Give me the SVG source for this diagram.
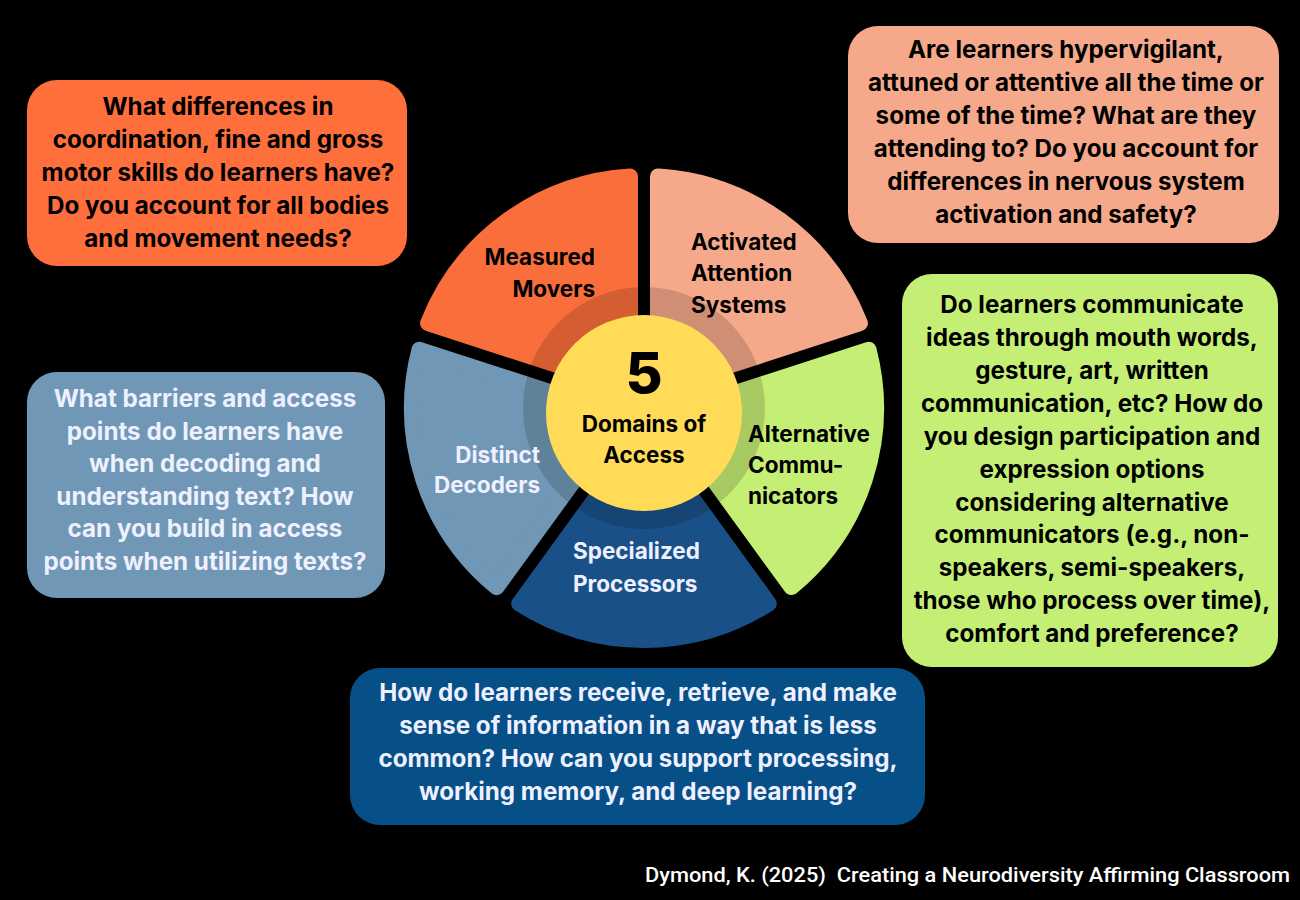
<svg xmlns="http://www.w3.org/2000/svg" width="1300" height="900" viewBox="0 0 1300 900">
  <style>
    .t { font-family: Inter, "Open Sans", "Liberation Sans", sans-serif; font-weight: 700; font-size: 22.5px; }
    .b { font-family: Inter, "Open Sans", "Liberation Sans", sans-serif; font-weight: 700; font-size: 24.2px; }
    .c { text-anchor: middle; }
    .r { text-anchor: end; }
    .dk { fill: #000000; }
    .lt { fill: #EEF0FF; }
    .sec { stroke-width: 16; stroke-linejoin: round; }
  </style>
  <rect x="0" y="0" width="1300" height="900" fill="#000000"/>

  <g id="wheel">
    <g id="sector-measured">
      <path class="sec" d="M630,388.73 L428.08,323.13 A232,232 0 0 1 630,176.42 Z" fill="#FA6E3B" stroke="#FA6E3B"/>
    </g>
    <g id="sector-activated">
      <path class="sec" d="M658,388.73 L658,176.42 A232,232 0 0 1 859.92,323.13 Z" fill="#F5A88A" stroke="#F5A88A"/>
    </g>
    <g id="sector-alternative">
      <path class="sec" d="M666.65,415.36 L868.58,349.75 A232,232 0 0 1 791.45,587.12 Z" fill="#C5EF74" stroke="#C5EF74"/>
    </g>
    <g id="sector-specialized">
      <path class="sec" d="M644,431.82 L768.79,603.58 A232,232 0 0 1 519.21,603.58 Z" fill="#1A5088" stroke="#1A5088"/>
    </g>
    <g id="sector-distinct">
      <path class="sec" d="M621.35,415.36 L496.55,587.12 A232,232 0 0 1 419.42,349.75 Z" fill="#7098B6" stroke="#7098B6"/>
    </g>
    <circle id="ring" cx="644" cy="408" r="121" fill="#000000" fill-opacity="0.15"/>
    <g id="center">
      <circle cx="644" cy="413" r="98" fill="#FFDB58"/>
      <text class="c dk" x="644" y="393" font-family="Inter, 'Open Sans', 'Liberation Sans', sans-serif" font-weight="800" font-size="57">5</text>
      <text class="t c dk" x="644" y="432" font-size="23.4">Domains of</text>
      <text class="t c dk" x="644" y="463" font-size="23.4">Access</text>
    </g>
    <g id="label-measured">
      <text class="t r dk" x="595" y="265">Measured</text>
      <text class="t r dk" x="595" y="297">Movers</text>
    </g>
    <g id="label-activated">
      <text class="t dk" x="691" y="250">Activated</text>
      <text class="t dk" x="691" y="281">Attention</text>
      <text class="t dk" x="691" y="313">Systems</text>
    </g>
    <g id="label-alternative">
      <text class="t dk" x="748" y="442">Alternative</text>
      <text class="t dk" x="748" y="473">Commu-</text>
      <text class="t dk" x="748" y="504">nicators</text>
    </g>
    <g id="label-specialized">
      <text class="t lt" x="573" y="559">Specialized</text>
      <text class="t lt" x="573" y="592">Processors</text>
    </g>
    <g id="label-distinct">
      <text class="t r lt" x="540" y="463">Distinct</text>
      <text class="t r lt" x="540" y="493">Decoders</text>
    </g>
  </g>

  <g id="box-movers">
    <rect x="27" y="80" width="380" height="186" rx="30" fill="#FE6F3B"/>
    <text class="b c dk" x="218" y="115">What differences in</text>
    <text class="b c dk" x="218" y="148">coordination, fine and gross</text>
    <text class="b c dk" x="218" y="181">motor skills do learners have?</text>
    <text class="b c dk" x="218" y="214">Do you account for all bodies</text>
    <text class="b c dk" x="218" y="247">and movement needs?</text>
  </g>

  <g id="box-attention">
    <rect x="848" y="26" width="431" height="217" rx="30" fill="#F5A88A"/>
    <text class="b c dk" x="1066" y="58">Are learners hypervigilant,</text>
    <text class="b c dk" x="1066" y="91">attuned or attentive all the time or</text>
    <text class="b c dk" x="1066" y="124">some of the time? What are they</text>
    <text class="b c dk" x="1066" y="157">attending to? Do you account for</text>
    <text class="b c dk" x="1066" y="190">differences in nervous system</text>
    <text class="b c dk" x="1066" y="223">activation and safety?</text>
  </g>

  <g id="box-decoders">
    <rect x="27" y="372" width="358" height="226" rx="30" fill="#7098B6"/>
    <text class="b c lt" x="205" y="407">What barriers and access</text>
    <text class="b c lt" x="205" y="440">points do learners have</text>
    <text class="b c lt" x="205" y="472">when decoding and</text>
    <text class="b c lt" x="205" y="505">understanding text? How</text>
    <text class="b c lt" x="205" y="537">can you build in access</text>
    <text class="b c lt" x="205" y="570">points when utilizing texts?</text>
  </g>

  <g id="box-communicators">
    <rect x="902" y="274" width="376" height="393" rx="30" fill="#C5EF74"/>
    <text class="b c dk" x="1092" y="313">Do learners communicate</text>
    <text class="b c dk" x="1092" y="346">ideas through mouth words,</text>
    <text class="b c dk" x="1092" y="379">gesture, art, written</text>
    <text class="b c dk" x="1092" y="412">communication, etc? How do</text>
    <text class="b c dk" x="1092" y="445">you design participation and</text>
    <text class="b c dk" x="1092" y="478">expression options</text>
    <text class="b c dk" x="1092" y="511">considering alternative</text>
    <text class="b c dk" x="1092" y="543">communicators (e.g., non-</text>
    <text class="b c dk" x="1092" y="576">speakers, semi-speakers,</text>
    <text class="b c dk" x="1092" y="609">those who process over time),</text>
    <text class="b c dk" x="1092" y="642">comfort and preference?</text>
  </g>

  <g id="box-processors">
    <rect x="350" y="668" width="575" height="157" rx="30" fill="#064F87"/>
    <text class="b c lt" x="638" y="701">How do learners receive, retrieve, and make</text>
    <text class="b c lt" x="638" y="734">sense of information in a way that is less</text>
    <text class="b c lt" x="638" y="767">common? How can you support processing,</text>
    <text class="b c lt" x="638" y="800">working memory, and deep learning?</text>
  </g>

  <g id="connectors"></g>

  <text id="credit" x="645" y="882" xml:space="preserve" font-family="Roboto, 'Liberation Sans', sans-serif" font-weight="500" font-size="20" fill="#FFFFFF" textLength="645" lengthAdjust="spacingAndGlyphs">Dymond, K. (2025)  Creating a Neurodiversity Affirming Classroom</text>
</svg>
